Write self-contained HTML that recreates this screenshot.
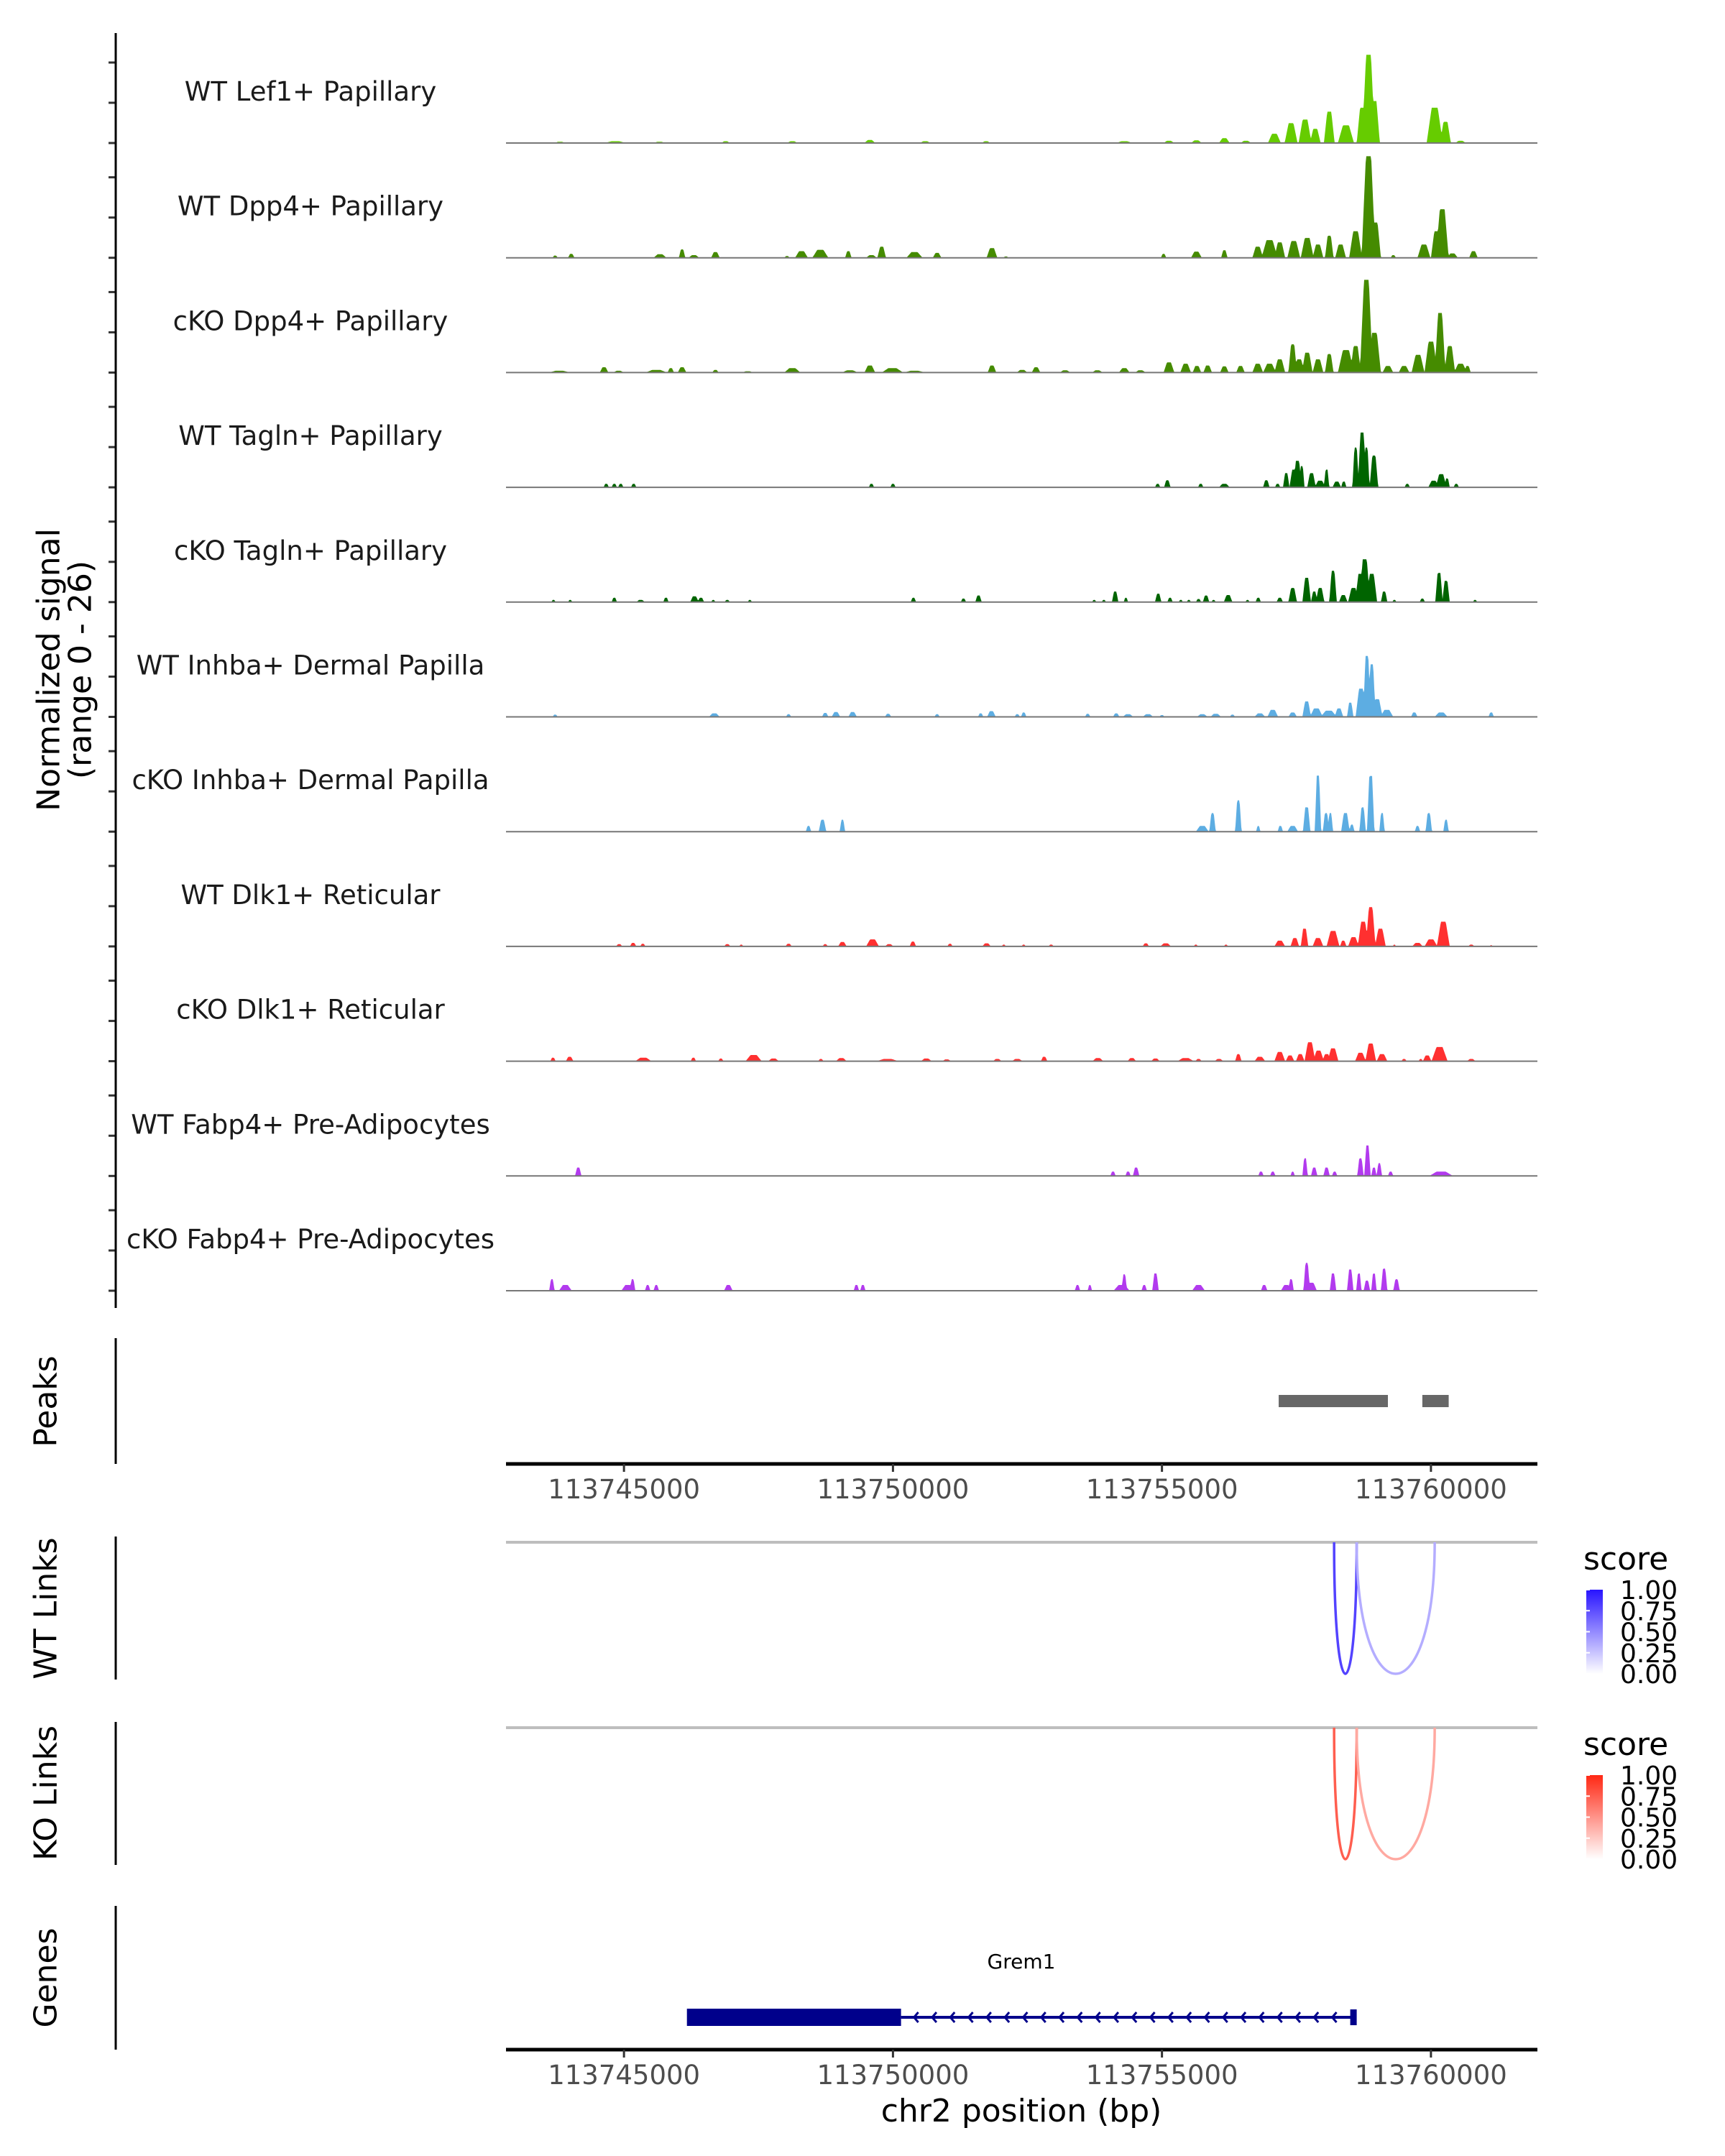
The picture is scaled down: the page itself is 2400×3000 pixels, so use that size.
<!DOCTYPE html>
<html><head><meta charset="utf-8"><style>
html,body{margin:0;padding:0;background:#fff;}
svg{display:block;font-family:"DejaVu Sans","Liberation Sans",sans-serif;}
</style></head><body>
<svg id="chart" width="2400" height="3000" viewBox="0 0 2400 3000" xmlns="http://www.w3.org/2000/svg">
<g id="tracks"></g>
<g id="axes"></g>
</svg>
<script>
// ---- data ----
const xTicks = [113745000, 113750000, 113755000, 113760000];
const xDomain = [113742807, 113761979];
const trackLabels = ["WT Lef1+ Papillary","WT Dpp4+ Papillary","cKO Dpp4+ Papillary","WT Tagln+ Papillary","cKO Tagln+ Papillary","WT Inhba+ Dermal Papilla","cKO Inhba+ Dermal Papilla","WT Dlk1+ Reticular","cKO Dlk1+ Reticular","WT Fabp4+ Pre-Adipocytes","cKO Fabp4+ Pre-Adipocytes"];
const trackColors = ["#66cc00","#458b00","#458b00","#006400","#006400","#5dade2","#5dade2","#ff3030","#ff3030","#b23aee","#b23aee"];
const signalMax = 26;
// peaks: [position kb offset from 113740000, height, half-width kb]
const peaksWTLef1 = [[3.81,0.3,.1],[4.84,0.4,.2],[5.66,0.3,.1],[6.89,0.4,.08],[8.13,0.4,.1],[9.57,0.7,.1],[10.6,0.4,.1],[11.73,0.4,.08],[14.3,0.4,.15],[15.13,0.5,.1],[15.64,0.6,.1],[16.16,1.1,.1],[16.56,0.5,.1],[17.09,2.1,.12],[17.4,4.5,.12],[17.66,5.3,.12],[17.85,3.2,.1],[18.11,7.1,.1],[18.42,4,.15],[18.72,8,.1],[18.84,20,.12],[18.95,9.5,.1],[20.07,8,.15],[20.27,4.8,.1],[20.55,0.5,.1]];
const peaksWTDpp4 = [[3.72,0.5,.05],[4.02,0.9,.06],[5.67,0.8,.12],[6.08,1.9,.06],[6.3,0.6,.1],[6.7,1.3,.08],[8.03,0.4,.05],[8.3,1.5,.12],[8.65,1.8,.15],[9.17,1.5,.06],[9.6,0.6,.1],[9.79,2.5,.08],[10.4,1.3,.15],[10.82,1.1,.08],[11.84,2.2,.1],[12.1,0.3,.05],[15.03,0.9,.05],[15.64,1.4,.1],[16.16,1.7,.06],[16.78,2.5,.1],[17.0,4.0,.15],[17.19,3.5,.1],[17.45,3.8,.12],[17.7,4.5,.12],[17.9,3,.1],[18.11,5,.08],[18.32,3,.1],[18.6,6,.12],[18.84,23,.13],[18.97,8,.1],[19.3,0.6,.05],[19.87,3,.12],[20.1,6,.1],[20.21,11,.12],[20.4,1,.1],[20.79,1.5,.08]];
const peaksKODpp4 = [[3.8,0.4,.2],[4.63,1.2,.08],[4.9,0.4,.1],[5.6,0.6,.2],[5.87,1,.06],[6.08,1.2,.08],[6.7,0.6,.06],[7.3,0.3,.1],[8.13,1,.15],[9.2,0.5,.15],[9.57,1.6,.1],[9.99,1,.2],[10.4,0.4,.2],[11.84,1.6,.08],[12.4,0.6,.1],[12.66,1.2,.08],[13.2,0.5,.1],[13.8,0.5,.1],[14.3,1,.1],[14.6,0.5,.1],[15.13,2.3,.1],[15.44,2.0,.1],[15.65,1.5,.08],[15.85,1.6,.08],[16.16,1.4,.08],[16.46,1.5,.08],[16.78,2,.1],[17.0,2,.12],[17.19,3,.1],[17.43,6.4,.08],[17.55,3,.1],[17.7,4.5,.1],[17.9,3,.1],[18.11,4.2,.08],[18.42,5.1,.15],[18.6,6,.1],[18.8,21,.12],[18.95,9,.12],[19.2,1.5,.1],[19.5,1.5,.1],[19.76,4,.12],[20.0,7,.12],[20.17,13.5,.1],[20.35,6,.1],[20.55,2,.12],[20.68,1.5,.06]];
const peaksWTTagln = [[4.67,0.8,.05],[4.82,0.8,.05],[4.94,0.8,.05],[5.18,0.8,.05],[9.6,0.8,.05],[10.0,0.8,.05],[14.92,0.8,.05],[15.1,1.6,.06],[15.72,0.8,.05],[16.16,0.8,.1],[16.94,1.6,.06],[17.15,0.8,.05],[17.31,3.2,.06],[17.45,4,.08],[17.52,6,.08],[17.6,4.8,.05],[17.78,3.2,.08],[17.94,1.5,.1],[18.06,4,.05],[18.25,1.3,.08],[18.38,1.3,.05],[18.6,9,.06],[18.72,12.4,.08],[18.8,9,.06],[18.94,7.2,.08],[19.56,0.8,.05],[20.05,1.5,.1],[20.19,3,.1],[20.3,2,.05],[20.47,0.8,.05]];
const peaksKOTagln = [[3.69,0.5,.04],[4.0,0.5,.04],[4.82,1,.05],[5.31,0.5,.08],[5.78,1,.05],[6.31,1.3,.08],[6.43,1,.06],[6.66,0.5,.04],[6.92,0.5,.05],[7.34,0.5,.04],[10.38,1,.05],[11.31,0.8,.05],[11.59,1.5,.06],[13.74,0.5,.04],[13.92,0.5,.04],[14.13,2.4,.06],[14.33,1,.04],[14.93,1.9,.06],[15.15,1,.05],[15.35,0.5,.04],[15.5,0.5,.04],[15.68,0.7,.05],[15.82,1.5,.06],[15.96,0.5,.04],[16.23,1.6,.08],[16.59,0.5,.04],[16.79,1,.05],[17.19,1,.06],[17.43,3.2,.08],[17.69,5.5,.08],[17.83,2.4,.06],[17.94,3.2,.08],[18.18,7.1,.07],[18.37,1.6,.08],[18.56,3.2,.1],[18.69,6.4,.1],[18.77,9.7,.1],[18.9,6.4,.1],[19.13,2.4,.06],[19.32,0.5,.04],[19.84,0.8,.05],[20.15,6.6,.07],[20.28,4.8,.07],[20.82,0.5,.04]];
const peaksWTInhba = [[3.72,0.5,.05],[6.68,0.8,.1],[8.06,0.6,.05],[8.74,0.9,.06],[8.94,1.1,.08],[9.25,1.1,.08],[9.91,0.7,.06],[10.82,0.6,.05],[11.63,0.8,.05],[11.83,1.3,.08],[12.31,0.6,.05],[12.43,1,.05],[13.62,0.7,.05],[14.15,0.8,.06],[14.37,0.6,.1],[14.74,0.6,.1],[15.0,0.4,.05],[15.75,0.6,.1],[16.0,0.7,.1],[16.31,0.5,.05],[16.82,0.8,.1],[17.06,1.6,.1],[17.43,1,.08],[17.69,3.5,.08],[17.87,1.9,.12],[18.1,1.4,.15],[18.29,1.9,.08],[18.5,3.2,.06],[18.7,6.4,.1],[18.81,13.8,.07],[18.9,11.9,.07],[19.0,4,.1],[19.18,1.6,.12],[19.69,1,.06],[20.19,1,.12],[21.12,1,.05]];
const peaksKOInhba = [[8.43,1.3,.05],[8.69,2.7,.07],[9.06,2.7,.05],[15.75,1.3,.12],[15.94,4.2,.06],[16.42,7.1,.06],[16.79,1.3,.04],[17.2,1.3,.05],[17.43,1.3,.1],[17.69,5.5,.07],[17.9,12.7,.06],[18.05,4.2,.06],[18.13,4.2,.05],[18.41,4.2,.08],[18.53,1.6,.05],[18.73,5.5,.06],[18.88,12.6,.07],[19.09,4.2,.05],[19.75,1.3,.05],[19.96,4.2,.06],[20.28,2.7,.05]];
const peaksWTDlk1 = [[4.91,0.5,.06],[5.17,0.8,.06],[5.35,0.6,.05],[6.92,0.5,.06],[7.18,0.4,.04],[8.06,0.6,.06],[8.74,0.5,.05],[9.06,1,.08],[9.62,1.6,.12],[9.93,0.5,.08],[10.37,1.1,.06],[11.06,0.6,.05],[11.74,0.7,.08],[12.06,0.4,.04],[12.43,0.4,.04],[12.94,0.4,.05],[14.7,0.7,.06],[15.07,0.7,.1],[15.63,0.4,.04],[16.19,0.4,.04],[17.19,1.3,.1],[17.47,1.9,.08],[17.65,4,.07],[17.9,1.9,.1],[18.18,3.5,.12],[18.37,1.3,.06],[18.56,2.1,.1],[18.74,5.6,.1],[18.88,8.9,.09],[19.06,4,.1],[19.32,0.4,.03],[19.75,0.8,.1],[20.0,1.6,.12],[20.23,5.6,.12],[20.75,0.4,.06],[21.12,0.3,.03]];
const peaksKODlk1 = [[3.68,0.8,.05],[3.99,1,.07],[5.36,0.8,.15],[6.29,0.8,.05],[6.8,0.6,.05],[7.41,1.4,.15],[7.78,0.6,.1],[8.66,0.5,.05],[9.04,0.7,.1],[9.9,0.5,.2],[10.62,0.6,.1],[11.0,0.4,.08],[11.94,0.5,.08],[12.31,0.5,.1],[12.81,1,.06],[13.81,0.7,.1],[14.44,0.7,.08],[14.88,0.6,.08],[15.44,0.7,.15],[15.68,0.5,.06],[16.06,0.5,.08],[16.42,1.6,.06],[16.82,1,.1],[17.19,2.1,.1],[17.38,1.3,.08],[17.57,1.6,.08],[17.75,4.3,.1],[17.91,2.4,.1],[18.06,1.6,.08],[18.18,2.9,.1],[18.69,1.9,.1],[18.88,4,.1],[19.09,1.6,.1],[19.5,0.5,.05],[19.81,0.5,.04],[20.16,3.2,.15],[19.93,1.3,.08],[20.75,0.5,.08]];
const peaksWTFabp4 = [[4.15,1.9,.06],[14.09,1,.05],[14.37,1,.05],[14.52,1.9,.06],[16.84,1,.05],[17.06,1,.05],[17.43,1,.04],[17.66,4,.05],[17.83,1.9,.06],[18.06,1.9,.06],[18.21,1,.05],[18.69,4,.06],[18.82,6.9,.06],[18.94,1.9,.05],[19.04,2.9,.05],[19.25,1,.05],[20.19,1,.22]];
const peaksKOFabp4 = [[3.66,2.6,.05],[3.91,1.3,.12],[5.07,1.3,.12],[5.16,2.6,.05],[5.44,1.3,.05],[5.6,1.3,.05],[6.94,1.3,.08],[9.32,1.3,.05],[9.44,1.3,.05],[13.43,1.3,.05],[13.66,1.3,.04],[14.25,1.3,.15],[14.3,3.7,.05],[14.67,1.3,.05],[14.88,3.9,.06],[15.68,1.3,.12],[16.9,1.3,.06],[17.31,1.3,.1],[17.4,2.6,.05],[17.69,6.3,.06],[17.78,1.8,.1],[18.18,3.9,.06],[18.5,4.8,.06],[18.66,3.9,.05],[18.81,2.3,.06],[18.94,3.9,.05],[19.13,5,.06],[19.36,2.6,.06]];
const trackPeaks = [peaksWTLef1, peaksWTDpp4, peaksKODpp4, peaksWTTagln, peaksKOTagln, peaksWTInhba, peaksKOInhba, peaksWTDlk1, peaksKODlk1, peaksWTFabp4, peaksKOFabp4];
const peakRegionsStart = [17.17, 19.84];
const peakRegionsEnd = [19.2, 20.33];
const linkStarts = [18.2, 18.62];
const linkEnds = [18.62, 20.07];
const wtLinkScores = [0.8, 0.35];
const koLinkScores = [0.75, 0.4];
const geneStart = 6.17, geneCdsEnd = 10.15, geneEnd = 18.58;
const legendTicks = ["1.00","0.75","0.50","0.25","0.00"];

// ---- layout ----
const NS = "http://www.w3.org/2000/svg";
const X0 = 704, X1 = 2139;
const firstBase = 199, trackStep = 159.7;
const unitPx = trackStep / signalMax;
function xBp(bp){ return X0 + (bp - xDomain[0]) / (xDomain[1] - xDomain[0]) * (X1 - X0); }
function xKb(kb){ return xBp(113740000 + kb * 1000); }
function el(tag, attrs, parent, text){
  const e = document.createElementNS(NS, tag);
  for (const k in attrs) e.setAttribute(k, attrs[k]);
  if (text !== undefined) e.textContent = text;
  parent.appendChild(e); return e;
}
const svg = document.getElementById('chart');
const gT = document.getElementById('tracks');
const gA = document.getElementById('axes');

// coverage tracks
trackPeaks.forEach((peaks, i) => {
  const base = firstBase + i * trackStep;
  let d = "M" + X0 + "," + base;
  for (let x = X0; x <= X1; x += 1) {
    let v = 0;
    for (const p of peaks) {
      const cx = xKb(p[0]);
      const hw = Math.max(2, xKb(p[0] + p[2]) - cx);
      const t = 1 - Math.abs(x - cx) / hw;
      if (t > 0) v = Math.max(v, p[1] * Math.min(1, t * 1.6));
    }
    d += "L" + x + "," + (base - v * unitPx).toFixed(1);
  }
  d += "L" + X1 + "," + base + "Z";
  const area = el('path', {d: d, fill: trackColors[i], stroke: 'none'}, gT);
  
  
  const bl = el('line', {x1: X0, x2: X1, y1: base, y2: base, stroke: '#777', 'stroke-width': 2}, gT);
  
  
  const lab = el('text', {x: 432, y: base - 59, 'font-size': 37, 'text-anchor': 'middle', fill: '#1a1a1a'}, gT, trackLabels[i]);
  
  
  [0, 56, 112].forEach(o => {
    const tk = el('line', {x1: 151, x2: 160, y1: base - o, y2: base - o, stroke: '#333', 'stroke-width': 3}, gA);
    
    
  });
});

// left axis lines
[[46, 1820], [1862, 2037], [2138, 2337], [2396, 2595], [2652, 2852]].forEach(r => {
  const l = el('line', {x1: 161, x2: 161, y1: r[0], y2: r[1], stroke: '#000', 'stroke-width': 3}, gA);
  
  
});
function vtitle(text, cx, cy, name){
  const t = el('text', {x: 0, y: 0, transform: 'translate(' + cx + ',' + cy + ') rotate(-90)', 'font-size': 44, 'text-anchor': 'middle', 'dominant-baseline': 'central', fill: '#000'}, gA, text);
  
  
}
vtitle('Normalized signal', 68, 932, 'y-axis-title');
vtitle('(range 0 - 26)', 112, 932, 'y-axis-range');
vtitle('Peaks', 64, 1950, 'peaks-title');
vtitle('WT Links', 64, 2238, 'wt-links-title');
vtitle('KO Links', 64, 2495, 'ko-links-title');
vtitle('Genes', 64, 2752, 'genes-title');

// peaks
peakRegionsStart.forEach((s, i) => {
  const r = el('rect', {x: xKb(s), y: 1941, width: xKb(peakRegionsEnd[i]) - xKb(s), height: 17, fill: '#676767'}, gA);
  
  
});

// x axes
function xaxis(y, name){
  const l = el('line', {x1: X0, x2: X1, y1: y, y2: y, stroke: '#000', 'stroke-width': 5}, gA);
  
  
  xTicks.forEach(t => {
    const tk = el('line', {x1: xBp(t), x2: xBp(t), y1: y, y2: y + 11, stroke: '#333', 'stroke-width': 3}, gA);
    
    
    const tl = el('text', {x: xBp(t), y: y + 48, 'font-size': 37, 'text-anchor': 'middle', fill: '#4d4d4d'}, gA, String(t));
    
    
  });
}
xaxis(2037, 'peaks-x-axis');
xaxis(2852, 'genes-x-axis');
const xt = el('text', {x: 1421, y: 2952, 'font-size': 44, 'text-anchor': 'middle', fill: '#000'}, gA, 'chr2 position (bp)');



// links
function lerp(a, b, t){ return Math.round(a + (b - a) * t); }
function links(top, scores, rgb, prefix){
  const gl = el('line', {x1: X0, x2: X1, y1: top, y2: top, stroke: '#bebebe', 'stroke-width': 4}, gA);
  
  
  const depth = 183;
  linkStarts.forEach((s, i) => {
    const a = xKb(s), b = xKb(linkEnds[i]);
    const c = 'rgb(' + lerp(255, rgb[0], scores[i]) + ',' + lerp(255, rgb[1], scores[i]) + ',' + lerp(255, rgb[2], scores[i]) + ')';
    const p = el('path', {d: 'M' + a + ',' + top + ' C' + a + ',' + (top + depth * 4 / 3) + ' ' + b + ',' + (top + depth * 4 / 3) + ' ' + b + ',' + top, fill: 'none', stroke: c, 'stroke-width': 3.5}, gA);
    
    
  });
  // legend
  const ly = top + 66;
  const st = el('text', {x: 2203, y: top + 38, 'font-size': 44, fill: '#000'}, gA, 'score');
  
  
  const gid = prefix + '-grad';
  const defs = el('defs', {}, svg);
  const gr = el('linearGradient', {id: gid, x1: 0, y1: 1, x2: 0, y2: 0}, defs);
  el('stop', {offset: 0, 'stop-color': '#ffffff'}, gr);
  el('stop', {offset: 1, 'stop-color': 'rgb(' + rgb.join(',') + ')'}, gr);
  const bar = el('rect', {x: 2207, y: ly, width: 23, height: 117, fill: 'url(#' + gid + ')'}, gA);
  
  
  legendTicks.forEach((t, k) => {
    const yy = ly + k * 117 / 4;
    const lt = el('text', {x: 2254, y: yy + 13, 'font-size': 36, fill: '#000'}, gA, t);
    
    
    const tw = el('line', {x1: 2207, x2: 2212, y1: yy, y2: yy, stroke: '#fff', 'stroke-width': 2}, gA);
    
    
  });
}
links(2146, wtLinkScores, [40, 20, 255], 'wt-links');
links(2404, koLinkScores, [255, 40, 20], 'ko-links');

// gene
const gy = 2807;
const gl = el('line', {x1: xKb(geneCdsEnd), x2: xKb(geneEnd), y1: gy, y2: gy, stroke: '#00008b', 'stroke-width': 4}, gA);


const gb = el('rect', {x: xKb(geneStart), y: gy - 12, width: xKb(geneCdsEnd) - xKb(geneStart), height: 24, fill: '#00008b'}, gA);


const ge = el('rect', {x: xKb(geneEnd) - 6, y: gy - 11, width: 9, height: 22, fill: '#00008b'}, gA);


for (let x = xKb(geneCdsEnd) + 18; x < xKb(geneEnd) - 8; x += 25.3) {
  const ch = el('path', {d: 'M' + (x + 6) + ',' + (gy - 7) + ' L' + x + ',' + gy + ' L' + (x + 6) + ',' + (gy + 7), fill: 'none', stroke: '#00008b', 'stroke-width': 3}, gA);
  
  
}
const gn = el('text', {x: 1421, y: 2739, 'font-size': 28, 'text-anchor': 'middle', fill: '#000'}, gA, 'Grem1');


</script>
</body></html>
